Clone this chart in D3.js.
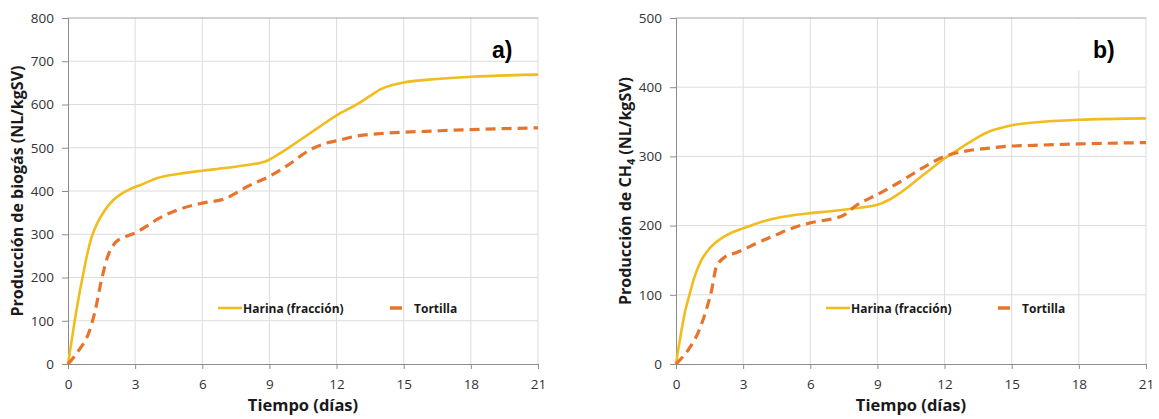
<!DOCTYPE html>
<html>
<head>
<meta charset="utf-8">
<script src="https://cdn.jsdelivr.net/npm/d3@7"></script>
<style>
  body { margin: 0; background: #fff; }
  text { font-family: "Open Sans", "Noto Sans", sans-serif; }
</style>
</head>
<body>
<div id="chart-area"></div>
<script>
// ---- data ----
var xTicks = [0, 3, 6, 9, 12, 15, 18, 21]
var yTicksA = [0, 100, 200, 300, 400, 500, 600, 700, 800]
var yTicksB = [0, 100, 200, 300, 400, 500]

// a) biogás
var tHarinaA = [0, 0.15, 0.3, 0.5, 0.65, 0.85, 1.05, 1.3, 1.6, 2, 2.4, 2.8, 3.3, 4, 5, 6, 7, 8, 8.9, 9.5, 10, 11, 12, 13, 13.5, 14, 14.5, 15, 16, 18, 21]
var vHarinaA = [0, 50, 100, 160, 200, 252, 292, 325, 352, 378, 394, 405, 415, 430, 440, 447, 453, 460, 470, 488, 505, 540, 575, 603, 620, 636, 645, 651, 657, 664, 669]
var tTortillaA = [0, 0.5, 0.95, 1.2, 1.5, 1.75, 2.1, 2.5, 3, 3.5, 4, 5, 6, 7, 7.5, 8, 9, 10, 10.5, 11, 11.5, 12, 13, 14, 15, 16, 18, 21]
var vTortillaA = [0, 33, 75, 120, 195, 245, 280, 293, 303, 318, 335, 358, 372, 382, 395, 410, 434, 466, 485, 500, 510, 516, 528, 533, 536, 538, 542, 546]

// b) metano
var tHarinaB = [0, 0.2, 0.4, 0.6, 0.85, 1.1, 1.5, 2, 2.5, 3, 4, 4.5, 5, 6, 7, 8, 9, 9.5, 10, 11, 12, 13, 13.5, 14, 14.5, 15, 16, 18, 21]
var vHarinaB = [0, 40, 75, 100, 128, 148, 167, 181, 190, 196, 207, 211, 214, 218, 221, 225, 230, 237, 247, 272, 297, 318, 328, 336, 341, 345, 349, 353, 355]
var tTortillaB = [0, 0.6, 1.05, 1.35, 1.6, 1.8, 2.2, 2.6, 3, 3.5, 4.5, 5, 6, 7, 7.5, 8, 9, 10, 11, 12, 13, 14, 15, 16, 18, 21]
var vTortillaB = [0, 23, 50, 78, 108, 140, 155, 160, 165, 173, 187, 194, 204, 210, 215, 228, 245, 263, 283, 300, 308, 312, 315, 316, 318, 320]

var seriesNames = ["Harina (fracción)", "Tortilla"]

// ---- layout ----
var colHarina = "#f0bc1e"
var colTortilla = "#e8742c"
var height = 346
var width = 470

var svg = d3.select("#chart-area").append("svg")
  .attr("width", 1159)
  .attr("height", 419)

var zip = (ts, vs) => ts.map((t, i) => ({t: t, v: vs[i]}))

function panel(opts) {
  var g = svg.append("g")
    .attr("transform", "translate(" + opts.left + ", 18)")

  var x = d3.scaleLinear().domain([0, 21]).range([0, width])
  var y = d3.scaleLinear().domain([0, opts.yMax]).range([height, 0])

  // grid
  g.selectAll(".vgrid").data(xTicks.slice(1)).enter().append("line")
    .attr("x1", d => x(d)).attr("x2", d => x(d))
    .attr("y1", 0).attr("y2", height)
    .attr("stroke", "#dcdcdc").attr("stroke-width", 1)
  g.selectAll(".hgrid").data(opts.yTicks.slice(1)).enter().append("line")
    .attr("x1", 0).attr("x2", width)
    .attr("y1", d => y(d)).attr("y2", d => y(d))
    .attr("stroke", d => d == opts.yMax ? "#a6a6a6" : "#dcdcdc").attr("stroke-width", 1)

  // white box behind the panel tag
  if (opts.tagBox) {
    g.append("rect")
      .attr("x", opts.tagX - 20).attr("y", 1)
      .attr("width", 60).attr("height", 51)
      .attr("fill", "#fff")
  }

  // axes
  var yAxis = g.append("g")
    .call(d3.axisLeft(y).tickValues(opts.yTicks).tickSize(6).tickPadding(8))
  var xAxis = g.append("g")
    .attr("transform", "translate(0, " + height + ")")
    .call(d3.axisBottom(x).tickValues(xTicks).tickSize(5).tickPadding(10))
  ;[yAxis, xAxis].forEach(a => {
    a.select(".domain").attr("stroke", "#8c8c8c")
    a.selectAll(".tick line").attr("stroke", "#8c8c8c")
    a.selectAll(".tick text")
      .attr("fill", "#333")
      .style("font-size", "13.5px")
      .style("font-family", "'Open Sans', sans-serif")
  })
  xAxis.select(".tick line").remove()

  // lines
  var line = d3.line().x(d => x(d.t)).y(d => y(d.v)).curve(d3.curveMonotoneX)
  g.append("path")
    .datum(zip(opts.tHarina, opts.vHarina))
    .attr("d", line)
    .attr("fill", "none")
    .attr("stroke", colHarina)
    .attr("stroke-width", 2.6)
  g.append("path")
    .datum(zip(opts.tTortilla, opts.vTortilla))
    .attr("d", line)
    .attr("fill", "none")
    .attr("stroke", colTortilla)
    .attr("stroke-width", 3.2)
    .attr("stroke-dasharray", "10,6")

  // legend
  var ly = 290
  g.append("line")
    .attr("x1", 150).attr("x2", 174).attr("y1", ly).attr("y2", ly)
    .attr("stroke", colHarina).attr("stroke-width", 2.6)
  g.append("text")
    .attr("x", 175).attr("y", ly + 4.5)
    .attr("font-size", "12px").attr("font-weight", "bold").attr("fill", "#1a1a1a")
    .text(seriesNames[0])
  g.append("line")
    .attr("x1", 322).attr("x2", 334).attr("y1", ly).attr("y2", ly)
    .attr("stroke", colTortilla).attr("stroke-width", 3.5)
  g.append("text")
    .attr("x", 346).attr("y", ly + 4.5)
    .attr("font-size", "12px").attr("font-weight", "bold").attr("fill", "#1a1a1a")
    .text(seriesNames[1])

  // tag a) / b)
  g.append("text")
    .attr("x", opts.tagX).attr("y", 40)
    .attr("font-size", "23px").attr("font-weight", "bold")
    .style("font-family", "'Liberation Sans', Arial, sans-serif")
    .text(opts.tag)

  // x label
  g.append("text")
    .attr("x", width / 2).attr("y", height + 47)
    .attr("text-anchor", "middle")
    .attr("font-size", "16.5px").attr("font-weight", "bold").attr("fill", "#1a1a1a")
    .text("Tiempo (días)")

  // y label
  var yl = g.append("text")
    .attr("transform", "translate(" + opts.yLabelX + ", " + (height / 2) + ") rotate(-90)")
    .attr("text-anchor", "middle")
    .attr("font-size", "16px").attr("font-weight", "bold").attr("fill", "#1a1a1a")
  opts.yLabel(yl)
}

panel({
  left: 68, yMax: 800, yTicks: yTicksA,
  tHarina: tHarinaA, vHarina: vHarinaA, tTortilla: tTortillaA, vTortilla: vTortillaA,
  tag: "a)", tagX: 424, tagBox: false, yLabelX: -45,
  yLabel: t => t.text("Producción de biogás (NL/kgSV)")
})

panel({
  left: 676, yMax: 500, yTicks: yTicksB,
  tHarina: tHarinaB, vHarina: vHarinaB, tTortilla: tTortillaB, vTortilla: vTortillaB,
  tag: "b)", tagX: 417, tagBox: true, yLabelX: -45,
  yLabel: t => {
    t.append("tspan").text("Producción de CH")
    t.append("tspan").attr("dy", 4).attr("font-size", "11px").text("4")
    t.append("tspan").attr("dy", -4).text(" (NL/kgSV)")
  }
})
</script>
</body>
</html>
